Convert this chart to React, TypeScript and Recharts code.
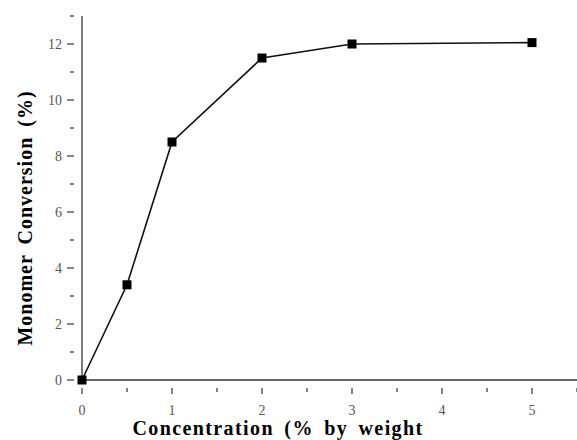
import React from 'react';
import { LineChart, Line, XAxis, YAxis } from 'recharts';

const concentration = [0, 0.5, 1, 2, 3, 5];
const conversion = [0, 3.4, 8.5, 11.5, 12.0, 12.05];
const xTicks = [0, 0.5, 1, 1.5, 2, 2.5, 3, 3.5, 4, 4.5, 5, 5.5];
const yTicks = [0, 1, 2, 3, 4, 5, 6, 7, 8, 9, 10, 11, 12, 13];

const data = concentration.map((c, i) => ({ c, v: conversion[i] }));

const tickFont = { fontFamily: 'Liberation Serif', fontSize: 14, fill: '#555' };

const XTick = (props: any) => {
  const { x, y, payload } = props;
  const major = Number.isInteger(payload.value);
  return (
    <g>
      <line x1={x} x2={x} y1={y} y2={y + (major ? 6 : 4)} stroke="#333" strokeWidth={1.2} />
      {major && payload.value <= 5 && (
        <text x={x} y={y + 27} textAnchor="middle" {...tickFont}>{payload.value}</text>
      )}
    </g>
  );
};

const YTick = (props: any) => {
  const { x, y, payload } = props;
  const major = payload.value % 2 === 0;
  return (
    <g>
      <line x1={x} x2={x - (major ? 7 : 4)} y1={y} y2={y} stroke="#333" strokeWidth={1.2} />
      {major && (
        <text x={x - 12} y={y + 5} textAnchor="end" {...tickFont}>{payload.value}</text>
      )}
    </g>
  );
};

const Square = (props: any) => {
  const { cx, cy } = props;
  if (cx == null || cy == null) return null;
  return <rect x={cx - 4.5} y={cy - 4.5} width={9} height={9} fill="#000" />;
};

export default function App() {
  return (
    <div style={{ position: 'absolute', left: 0, top: 0, width: 577, height: 440, background: '#fff' }}>
      <LineChart width={577} height={440} data={data} margin={{ top: 16, right: 0, bottom: 0, left: 0 }}>
        <XAxis
          dataKey="c"
          type="number"
          domain={[0, 5.5]}
          ticks={xTicks}
          interval={0}
          tickLine={false}
          tick={<XTick />}
          axisLine={{ stroke: '#333', strokeWidth: 1.3 }}
          height={60}
          label={() => (
            <text x={278} y={435} textAnchor="middle" fontFamily="Liberation Serif" fontWeight="bold" fontSize={20} letterSpacing={1.4} wordSpacing={4} fill="#000">
              Concentration (% by weight
            </text>
          )}
        />
        <YAxis
          type="number"
          domain={[0, 13]}
          ticks={yTicks}
          interval={0}
          tickLine={false}
          tick={<YTick />}
          axisLine={{ stroke: '#333', strokeWidth: 1.3 }}
          width={82}
          label={() => (
            <text x={32} y={218} transform="rotate(-90 32 218)" textAnchor="middle" fontFamily="Liberation Serif" fontWeight="bold" fontSize={20} letterSpacing={1.0} wordSpacing={4} fill="#000">
              Monomer Conversion (%)
            </text>
          )}
        />
        <Line
          dataKey="v"
          stroke="#111"
          strokeWidth={1.6}
          dot={<Square />}
          activeDot={false}
          isAnimationActive={false}
          type="linear"
        />
      </LineChart>
    </div>
  );
}
